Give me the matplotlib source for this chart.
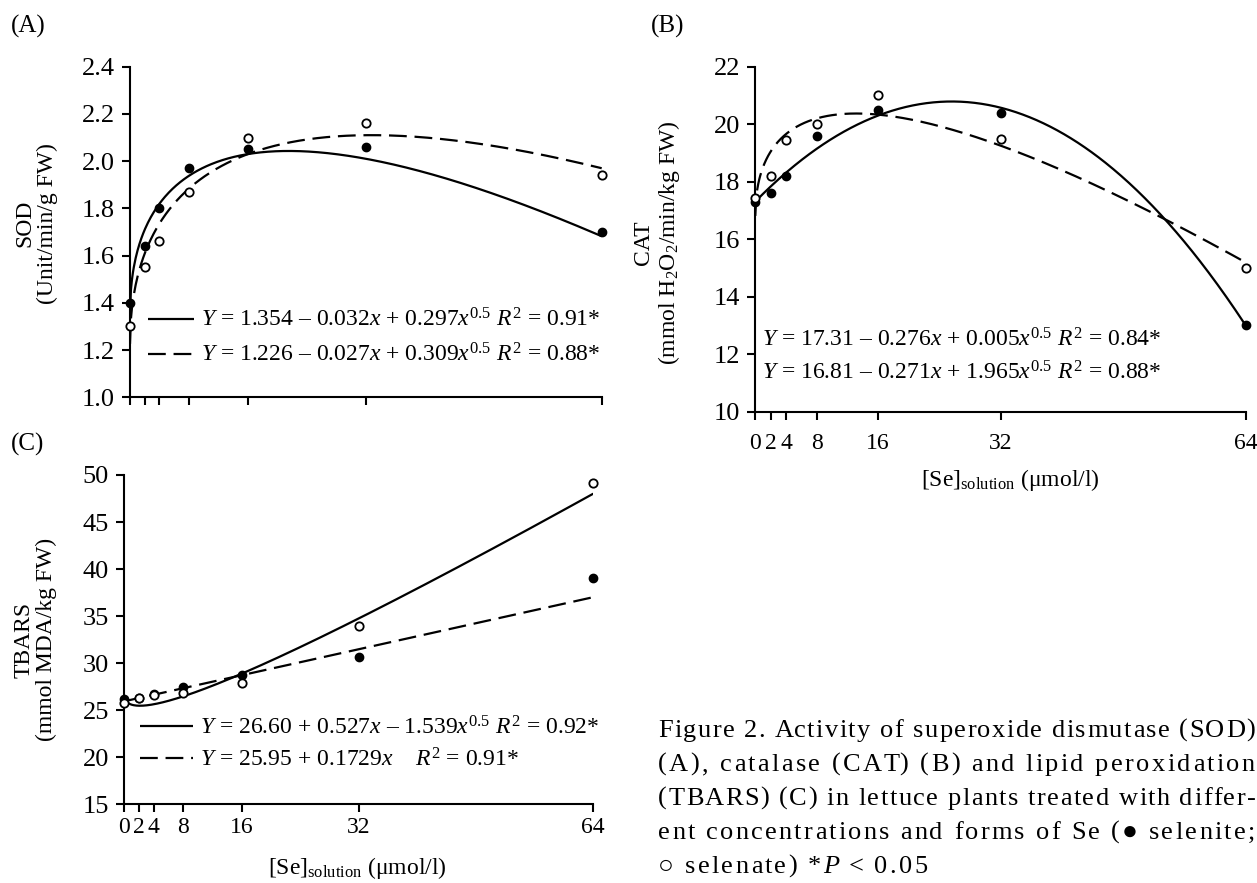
import numpy as np
import matplotlib
matplotlib.use('Agg')
import matplotlib.pyplot as plt
from matplotlib.ticker import FormatStrFormatter

plt.rcParams['font.family'] = ['Liberation Serif', 'DejaVu Serif']
plt.rcParams['mathtext.fontset'] = 'custom'
plt.rcParams['mathtext.rm'] = 'Liberation Serif'
plt.rcParams['mathtext.it'] = 'Liberation Serif:italic'
plt.rcParams['mathtext.bf'] = 'Liberation Serif:bold'

# Se concentration in solution (umol/l)
se_conc = [0, 2, 4, 8, 16, 32, 64]

# measured points (selenite = filled, selenate = open)
sod_selenite = [1.40, 1.64, 1.80, 1.97, 2.05, 2.06, 1.70]
sod_selenate = [1.30, 1.55, 1.66, 1.87, 2.10, 2.16, 1.94]
cat_selenite = [17.3, 17.6, 18.2, 19.6, 20.5, 20.4, 13.0]
cat_selenate = [17.45, 18.2, 19.45, 20.0, 21.0, 19.5, 15.0]
tbars_selenite = [26.2, 26.3, 26.7, 27.5, 28.7, 30.7, 39.1]
tbars_selenate = [25.8, 26.3, 26.6, 26.8, 27.9, 33.9, 49.1]

# regression models: a + b*x + c*sqrt(x)  (CAT selenite curve is drawn as a + b*x + c*x^2)
sod_fit_selenite = [1.354, -0.032, 0.297]
sod_fit_selenate = [1.226, -0.027, 0.309]
cat_fit_selenite = [17.31, 0.2716, -0.0053]
cat_fit_selenate = [16.81, -0.271, 1.965]
tbars_fit_selenite = [26.60, 0.527, -1.539]
tbars_fit_selenate = [25.95, 0.1729, 0.0]

eq_sod = [r'$Y$ = 1.354 – 0.032$x$ + 0.297$x^{0.5}$ $R^2$ = 0.91*',
          r'$Y$ = 1.226 – 0.027$x$ + 0.309$x^{0.5}$ $R^2$ = 0.88*']
eq_cat = [r'$Y$ = 17.31 – 0.276$x$ + 0.005$x^{0.5}$ $R^2$ = 0.84*',
          r'$Y$ = 16.81 – 0.271$x$ + 1.965$x^{0.5}$ $R^2$ = 0.88*']
eq_tbars = [r'$Y$ = 26.60 + 0.527$x$ – 1.539$x^{0.5}$ $R^2$ = 0.92*',
            r'$Y$ = 25.95 + 0.1729$x$    $R^2$ = 0.91*']

caption = ['Figure 2. Activity of superoxide dismutase (SOD)',
           '(A), catalase (CAT) (B) and lipid peroxidation',
           '(TBARS) (C) in lettuce plants treated with differ-',
           'ent concentrations and forms of Se (\u25CF selenite;',
           '\u25CB selenate) *P < 0.05']

W, H = 1257, 883
fig = plt.figure(figsize=(W / 100, H / 100), dpi=100)

def sqrt_model(c, x):
    return c[0] + c[1] * x + c[2] * np.sqrt(x)

def quad_model(c, x):
    return c[0] + c[1] * x + c[2] * x ** 2

def style_axes(ax, ylim, ystep, fmt):
    for s in ['top', 'right']:
        ax.spines[s].set_visible(False)
    for s in ['left', 'bottom']:
        ax.spines[s].set_linewidth(1.5)
    ax.set_xlim(0, 64)
    ax.set_ylim(*ylim)
    ax.set_xticks(se_conc)
    ax.set_yticks(np.arange(ylim[0], ylim[1] + ystep / 2, ystep))
    ax.yaxis.set_major_formatter(FormatStrFormatter(fmt))
    ax.tick_params(axis='both', direction='out', length=6, width=1.5, colors='black')
    ax.tick_params(axis='y', labelsize=19, pad=5)
    ax.tick_params(axis='x', labelsize=17)

def draw_panel(ax, sel, sela, fit_sel, fit_sela, model_sel):
    xf = np.linspace(0, 64, 500)
    l1, = ax.plot(xf, model_sel(fit_sel, xf), color='black', lw=1.6, solid_capstyle='butt')
    l2, = ax.plot(xf, sqrt_model(fit_sela, xf), color='black', lw=1.6, dashes=(8, 3.5))
    ax.plot(se_conc, sel, 'o', color='black', ms=6, clip_on=False, zorder=5)
    ax.plot(se_conc, sela, 'o', mfc='white', mec='black', mew=1.3, ms=6, clip_on=False, zorder=6)
    return l1, l2

# (A) SOD
axA = fig.add_axes([130 / W, 1 - 397.3 / H, 471.7 / W, 330.6 / H])
style_axes(axA, (1.0, 2.4), 0.2, '%.1f')
axA.tick_params(axis='x', labelbottom=False)
hA = draw_panel(axA, sod_selenite, sod_selenate, sod_fit_selenite, sod_fit_selenate, sqrt_model)
axA.legend(hA, eq_sod, loc='lower left', bbox_to_anchor=(0.038, 0.092), frameon=False,
           fontsize=17, handlelength=1.95, handletextpad=0.3, labelspacing=0.5,
           borderpad=0, borderaxespad=0)
axA.set_ylabel('SOD\n(Unit/min/g FW)', fontsize=17, linespacing=1.1)
axA.yaxis.set_label_coords(-0.153, 0.527)

# (B) CAT
axB = fig.add_axes([755.3 / W, 1 - 411.7 / H, 490.7 / W, 345 / H])
style_axes(axB, (10, 22), 2, '%d')
axB.tick_params(axis='x', pad=9)
draw_panel(axB, cat_selenite, cat_selenate, cat_fit_selenite, cat_fit_selenate, quad_model)
axB.text(0.013, 0.208, eq_cat[0], transform=axB.transAxes, fontsize=17, va='center', ha='left')
axB.text(0.013, 0.113, eq_cat[1], transform=axB.transAxes, fontsize=17, va='center', ha='left')
axB.set_ylabel('CAT\n(mmol H$_2$O$_2$/min/kg FW)', fontsize=17, linespacing=1.1)
axB.yaxis.set_label_coords(-0.149, 0.49)
axB.set_xlabel(r'[Se]$_{\mathrm{solution}}$ (μmol/l)', fontsize=17)
axB.xaxis.set_label_coords(0.519, -0.16)

# (C) TBARS
axC = fig.add_axes([124.3 / W, 1 - 804.3 / H, 469 / W, 329.3 / H])
style_axes(axC, (15, 50), 5, '%d')
axC.tick_params(axis='x', pad=3)
hC = draw_panel(axC, tbars_selenite, tbars_selenate, tbars_fit_selenite, tbars_fit_selenate, sqrt_model)
axC.legend(hC, eq_tbars, loc='lower left', bbox_to_anchor=(0.033, 0.1), frameon=False,
           fontsize=17, handlelength=2.25, handletextpad=0.3, labelspacing=0.36,
           borderpad=0, borderaxespad=0)
axC.set_ylabel('TBARS\n(mmol MDA/kg FW)', fontsize=17, linespacing=1.1)
axC.yaxis.set_label_coords(-0.1435, 0.5)
axC.set_xlabel(r'[Se]$_{\mathrm{solution}}$ (μmol/l)', fontsize=17)
axC.xaxis.set_label_coords(0.497, -0.155)

# panel letters
for lab, x, y in [('(A)', 11, 26), ('(B)', 651, 26), ('(C)', 11, 444)]:
    fig.text(x / W, 1 - y / H, lab, fontsize=18, va='center', ha='left')

# justified, letter-spaced caption
cap_x0, cap_x1 = 658, 1255
cap_base = [737, 771, 805, 839, 873]
cap_size = 19
r = fig.canvas.get_renderer()
meas = fig.text(0, 0, '|', fontsize=cap_size)
bar_w = meas.get_window_extent(r).width

def text_w(s):
    meas.set_text(s + '|')
    return meas.get_window_extent(r).width - bar_w

track = 0
for i, line in enumerate(caption):
    if i < len(caption) - 1:
        track = (cap_x1 - cap_x0 - text_w(line)) / (len(line) - 1)
    for j, ch in enumerate(line):
        if ch == ' ':
            continue
        x = cap_x0 + text_w(line[:j]) + j * track
        st = 'italic' if (i == 4 and ch == 'P') else 'normal'
        fig.text(x / W, 1 - cap_base[i] / H, ch, fontsize=cap_size, style=st,
                 va='baseline', ha='left')
meas.remove()

fig.savefig('out.png', dpi=100)
